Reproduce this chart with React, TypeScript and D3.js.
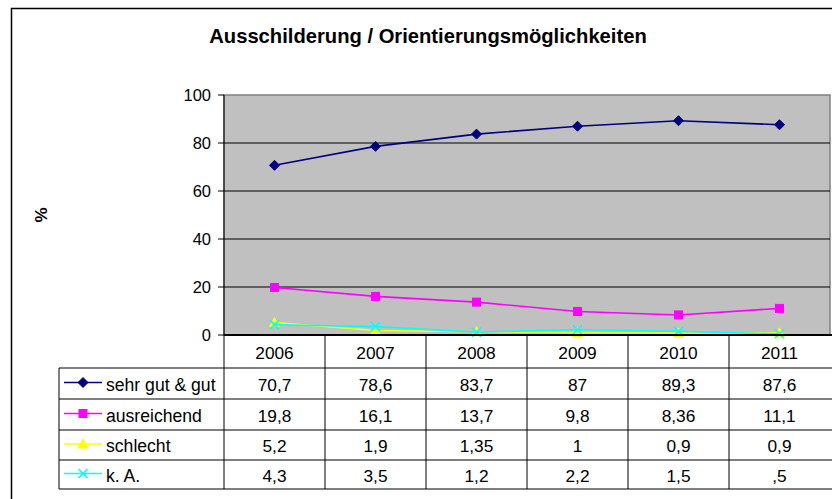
import React from "react";
import * as d3 from "d3";

const years = ["2006", "2007", "2008", "2009", "2010", "2011"];
const sehrGut = [70.7, 78.6, 83.7, 87, 89.3, 87.6];
const ausreichend = [19.8, 16.1, 13.7, 9.8, 8.36, 11.1];
const schlecht = [5.2, 1.9, 1.35, 1, 0.9, 0.9];
const kA = [4.3, 3.5, 1.2, 2.2, 1.5, 0.5];
const sehrGutLabels = ["70,7", "78,6", "83,7", "87", "89,3", "87,6"];
const ausreichendLabels = ["19,8", "16,1", "13,7", "9,8", "8,36", "11,1"];
const schlechtLabels = ["5,2", "1,9", "1,35", "1", "0,9", "0,9"];
const kALabels = ["4,3", "3,5", "1,2", "2,2", "1,5", ",5"];
const yTicks = [0, 20, 40, 60, 80, 100];
const title = "Ausschilderung / Orientierungsmöglichkeiten";

const series = [
  { name: "sehr gut & gut", values: sehrGut, labels: sehrGutLabels, color: "#000080", marker: "diamond" },
  { name: "ausreichend", values: ausreichend, labels: ausreichendLabels, color: "#FF00FF", marker: "square" },
  { name: "schlecht", values: schlecht, labels: schlechtLabels, color: "#FFFF00", marker: "triangle" },
  { name: "k. A.", values: kA, labels: kALabels, color: "#00FFFF", marker: "x" },
];

const W = 832;
const H = 499;
const plotL = 224;
const plotR = 830;
const plotT = 95;
const plotB = 335;
const rowEdges = [335, 368, 399, 430, 460, 489];
const tableL = 59;
const font = "'Liberation Sans', Arial, sans-serif";

function Marker({ type, x, y, color }: { type: string; x: number; y: number; color: string }) {
  if (type === "diamond") {
    const s = 5;
    return <path d={`M${x},${y - s}L${x + s},${y}L${x},${y + s}L${x - s},${y}Z`} fill={color} stroke={color} strokeWidth={1} />;
  }
  if (type === "square") {
    const s = 4;
    return <rect x={x - s} y={y - s} width={2 * s} height={2 * s} fill={color} stroke={color} strokeWidth={1} />;
  }
  if (type === "triangle") {
    const s = 5;
    return <path d={`M${x},${y - s}L${x + s},${y + s * 0.8}L${x - s},${y + s * 0.8}Z`} fill={color} stroke={color} strokeWidth={1} />;
  }
  const s = 4.5;
  return (
    <path d={`M${x - s},${y - s}L${x + s},${y + s}M${x + s},${y - s}L${x - s},${y + s}`} stroke={color} strokeWidth={1.6} fill="none" />
  );
}

export default function App() {
  const x = d3.scaleBand<string>().domain(years).range([plotL, plotR]);
  const y = d3.scaleLinear().domain([0, 100]).range([plotB, plotT]);
  const line = d3
    .line<number>()
    .x((_, i) => (x(years[i]) as number) + x.bandwidth() / 2)
    .y((d) => y(d));
  const drawOrder = [2, 3, 1, 0];

  return (
    <svg width={W} height={H} style={{ position: "absolute", left: 0, top: 0 }} fontFamily={font}>
      <rect x={0} y={0} width={W} height={H} fill="#fff" />
      <rect x={11.5} y={8.5} width={900} height={600} fill="none" stroke="#000" strokeWidth={1.5} />
      <text x={428} y={43} textAnchor="middle" fontSize={20.2} fontWeight="bold">
        {title}
      </text>
      <text transform={`translate(47,215) rotate(-90)`} textAnchor="middle" fontSize={17} fontWeight="bold">
        %
      </text>
      {/* plot area */}
      <rect x={plotL} y={plotT} width={plotR - plotL} height={plotB - plotT} fill="#C0C0C0" stroke="#808080" strokeWidth={1.5} />
      {yTicks.filter((t) => t > 0 && t < 100).map((t) => (
        <line key={t} x1={plotL} x2={plotR} y1={y(t)} y2={y(t)} stroke="#000" strokeWidth={1} />
      ))}
      <line x1={plotL} x2={plotL} y1={plotT} y2={plotB} stroke="#000" strokeWidth={1} />
      {yTicks.map((t) => (
        <g key={t}>
          <line x1={plotL - 6} x2={plotL} y1={y(t)} y2={y(t)} stroke="#000" strokeWidth={1} />
          <text x={plotL - 13} y={y(t)} dy="0.36em" textAnchor="end" fontSize={16.5}>
            {t}
          </text>
        </g>
      ))}
      {drawOrder.map((si) => {
        const s = series[si];
        return (
          <g key={s.name}>
            <path d={line(s.values) || ""} fill="none" stroke={s.color} strokeWidth={1.6} />
            {s.values.map((v, i) => (
              <Marker key={i} type={s.marker} x={(x(years[i]) as number) + x.bandwidth() / 2} y={y(v)} color={s.color} />
            ))}
          </g>
        );
      })}
      {/* data table */}
      <line x1={plotL} x2={W} y1={plotB} y2={plotB} stroke="#000" strokeWidth={2} />
      {rowEdges.slice(1).map((r, i) => (
        <line key={r} x1={tableL} x2={W} y1={r} y2={r} stroke={i === rowEdges.length - 2 ? "#555" : "#000"} strokeWidth={i === rowEdges.length - 2 ? 1.5 : 1} />
      ))}
      <line x1={tableL} x2={tableL} y1={rowEdges[1]} y2={rowEdges[5]} stroke="#000" strokeWidth={1} />
      {years.map((yr) => (
        <line key={yr} x1={x(yr) as number} x2={x(yr) as number} y1={plotB} y2={rowEdges[5]} stroke="#000" strokeWidth={1} />
      ))}
      {years.map((yr) => (
        <text key={yr} x={(x(yr) as number) + x.bandwidth() / 2} y={(rowEdges[0] + rowEdges[1]) / 2 + 1} dy="0.36em" textAnchor="middle" fontSize={17.3}>
          {yr}
        </text>
      ))}
      {series.map((s, si) => {
        const cy = (rowEdges[si + 1] + rowEdges[si + 2]) / 2 + 1;
        return (
          <g key={s.name}>
            <line x1={64} x2={102} y1={cy - 2} y2={cy - 2} stroke={s.color} strokeWidth={1.6} />
            <Marker type={s.marker} x={83} y={cy - 2} color={s.color} />
            <text x={106} y={cy} dy="0.36em" fontSize={17.6}>
              {s.name}
            </text>
            {s.labels.map((lab, i) => (
              <text key={i} x={(x(years[i]) as number) + x.bandwidth() / 2} y={cy} dy="0.36em" textAnchor="middle" fontSize={17.3}>
                {lab}
              </text>
            ))}
          </g>
        );
      })}
    </svg>
  );
}
